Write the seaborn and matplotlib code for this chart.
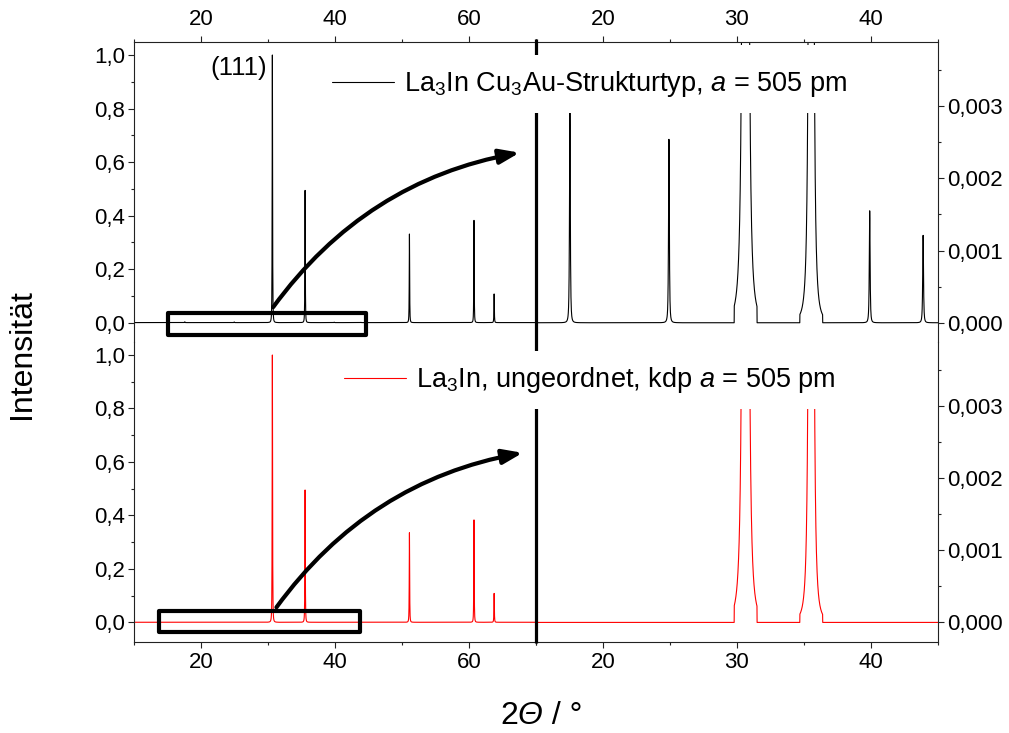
import numpy as np
import pandas as pd
import matplotlib
matplotlib.use("Agg")
import matplotlib.pyplot as plt
import seaborn as sns
from matplotlib.patches import FancyArrowPatch, Rectangle
from matplotlib.lines import Line2D
from matplotlib.ticker import MultipleLocator, FuncFormatter

# ---------------- data ----------------
# reflection positions (2theta / deg) and relative intensities
ordered_pos = [17.55, 24.93, 30.64, 35.53, 39.89, 43.87, 51.13, 60.78, 63.79]
ordered_int = [0.00295, 0.00254, 1.0, 0.494, 0.00155, 0.00121, 0.331, 0.382, 0.107]
disordered_pos = [30.64, 35.53, 51.13, 60.78, 63.79]
disordered_int = [1.0, 0.495, 0.335, 0.383, 0.108]

label_ordered = "La$_3$In Cu$_3$Au-Strukturtyp, $a$ = 505 pm"
label_disordered = "La$_3$In, ungeordnet, kdp $a$ = 505 pm"
x_label_parts = ["2", "\u0398", " / \u00b0"]
y_label = "Intensit\u00e4t"
hkl_label = "(111)"

# peak profile (Pearson VII) parameters
FWHM = 0.068
M_SHAPE = 1.4
CUT = 0.85

two_theta = np.arange(10.0, 75.0, 0.01)


def profile(x, pos, ints):
    y = np.zeros_like(x)
    k = 4 * (2 ** (1 / M_SHAPE) - 1) / FWHM ** 2
    for p, h in zip(pos, ints):
        d = x - p
        m = np.abs(d) <= CUT
        y[m] += h * (1 + k * d[m] ** 2) ** (-M_SHAPE)
    return y


df = pd.DataFrame({
    "two_theta": two_theta,
    "ordered": profile(two_theta, ordered_pos, ordered_int),
    "disordered": profile(two_theta, disordered_pos, disordered_int),
})

# ---------------- style ----------------
sns.set_theme(style="white")
plt.rcParams["font.family"] = ["Liberation Sans", "DejaVu Sans"]
plt.rcParams["text.color"] = "black"
plt.rcParams["mathtext.fontset"] = "custom"
plt.rcParams["mathtext.rm"] = "Liberation Sans"
plt.rcParams["mathtext.it"] = "Liberation Sans:italic"
plt.rcParams["mathtext.bf"] = "Liberation Sans:bold"

fig = plt.figure(figsize=(10.09, 7.33), dpi=100)
L, M, R = 0.1331, 0.5309, 0.9299
B, Mid, T = 0.1246, 0.5334, 0.9427
ax_tl = fig.add_axes([L, Mid, M - L, T - Mid])
ax_tr = fig.add_axes([M, Mid, R - M, T - Mid])
ax_bl = fig.add_axes([L, B, M - L, Mid - B])
ax_br = fig.add_axes([M, B, R - M, Mid - B])

left_ylim = (-0.0726, 1.0486)
right_ylim = (-0.000267, 0.003888)

fmt1 = FuncFormatter(lambda v, p: f"{v:.1f}".replace(".", ",").replace("-0,0", "0,0"))
fmt3 = FuncFormatter(lambda v, p: f"{v:.3f}".replace(".", ",").replace("-0,000", "0,000"))

spine_col = "#222222"


def style(ax, xside, yside, xlim, ylim, xmaj, xmin, ymaj, ymin, yfmt):
    ax.patch.set_visible(False)
    for s in ["top", "bottom", "left", "right"]:
        ax.spines[s].set_visible(s in (xside, yside))
        ax.spines[s].set_linewidth(0.8)
        ax.spines[s].set_color(spine_col)
    ax.set_xlim(*xlim)
    ax.set_ylim(*ylim)
    ax.xaxis.set_ticks_position(xside)
    ax.yaxis.set_ticks_position(yside)
    ax.xaxis.set_major_locator(MultipleLocator(xmaj))
    ax.xaxis.set_minor_locator(MultipleLocator(xmin))
    ax.yaxis.set_major_locator(MultipleLocator(ymaj))
    ax.yaxis.set_minor_locator(MultipleLocator(ymin))
    ax.xaxis.set_major_formatter(FuncFormatter(lambda v, p: f"{v:.0f}"))
    ax.yaxis.set_major_formatter(yfmt)
    ax.tick_params(which="both", direction="out", color=spine_col, width=0.8,
                   labelsize=16, labelcolor="black")
    ax.tick_params(which="major", length=4.5)
    ax.tick_params(which="minor", length=2.5)
    ax.tick_params(axis="y", pad=2)
    ax.tick_params(axis="x", pad=4 if xside == "top" else 3)
    ax.set_xlabel("")
    ax.set_ylabel("")
    ax.grid(False)


panels = [
    (ax_tl, "ordered", "black", "top", "left", (10, 70), left_ylim, 20, 10, 0.2, 0.1, fmt1),
    (ax_tr, "ordered", "black", "top", "right", (15, 45), right_ylim, 10, 5, 0.001, 0.0005, fmt3),
    (ax_bl, "disordered", "red", "bottom", "left", (10, 70), left_ylim, 20, 10, 0.2, 0.1, fmt1),
    (ax_br, "disordered", "red", "bottom", "right", (15, 45), right_ylim, 10, 5, 0.001, 0.0005, fmt3),
]

for ax, col, c, xs, ys, xl, yl, xM, xm, yM, ym, yf in panels:
    sns.lineplot(data=df, x="two_theta", y=col, ax=ax, color=c, linewidth=0.8,
                 estimator=None, sort=False, legend=False)
    style(ax, xs, ys, xl, yl, xM, xm, yM, ym, yf)

# (111) label
ax_tl.text(29.9, 0.952, hkl_label, ha="right", va="center", fontsize=18.5)

# zoom rectangles and arrows
rect_top = (15.0, -0.046, 29.6, 0.081)
rect_bot = (13.7, -0.035, 30.1, 0.078)
arrow_top = ((30.75, 0.0575), (67.6, 0.635))
arrow_bot = ((31.25, 0.056), (68.06, 0.634))

for ax, rect, arr in [(ax_tl, rect_top, arrow_top), (ax_bl, rect_bot, arrow_bot)]:
    ax.add_patch(Rectangle(rect[:2], rect[2], rect[3], fill=False, edgecolor="black",
                           linewidth=3.0, joinstyle="round", clip_on=False, zorder=4))
    ax.add_patch(FancyArrowPatch(arr[0], arr[1], connectionstyle="arc3,rad=-0.2",
                                 arrowstyle="-|>,head_length=0.6,head_width=0.22",
                                 mutation_scale=20, linewidth=3.0, color="black",
                                 shrinkA=0, shrinkB=0, clip_on=False, zorder=4))

# divider between full range and zoomed range
xdiv = ax_tl.get_position().x1
fig.add_artist(Line2D([xdiv, xdiv], [T + 0.0037, B - 0.0018], transform=fig.transFigure,
                      color="black", linewidth=2.3, solid_capstyle="butt", zorder=3))

# legends
h_top = Line2D([], [], color="black", linewidth=0.8)
h_bot = Line2D([], [], color="red", linewidth=0.8)
legs = []
for h, lab, anchor in [(h_top, label_ordered, (0.3157, 0.8854)),
                       (h_bot, label_disordered, (0.3276, 0.4816))]:
    leg = fig.legend(handles=[h], labels=[lab], loc="center left", bbox_to_anchor=anchor,
                     bbox_transform=fig.transFigure, fontsize=19.5, frameon=True,
                     facecolor="white", edgecolor="none", framealpha=1.0, fancybox=False,
                     borderpad=0.5, handlelength=2.3, handletextpad=0.35, borderaxespad=0)
    leg.set_zorder(5)
    legs.append(leg)

# white areas above the legends hiding the clipped peaks (divider stays on top)
fig.canvas.draw()
renderer = fig.canvas.get_renderer()
inv = fig.transFigure.inverted()
for leg, ytop in zip(legs, [T - 3 / 733, Mid]):
    bb = leg.get_window_extent(renderer).transformed(inv)
    fig.add_artist(Rectangle((bb.x0, bb.y1 - 0.002), bb.width, ytop - bb.y1 + 0.002,
                             transform=fig.transFigure, facecolor="white",
                             edgecolor="none", zorder=2.5))

# axis titles
fig.text(22 / 1009, 1 - 354 / 733, y_label, rotation=90, ha="center", va="center", fontsize=23)
xl_y = 1 - 716 / 733
x_cur = 500 / 1009
for part, style_ in zip(x_label_parts, ["normal", "italic", "normal"]):
    t = fig.text(x_cur, xl_y, part, ha="left", va="center", fontsize=23, fontstyle=style_)
    ext = t.get_window_extent(renderer).transformed(inv)
    x_cur = ext.x1

fig.savefig("out.png", dpi=100)
